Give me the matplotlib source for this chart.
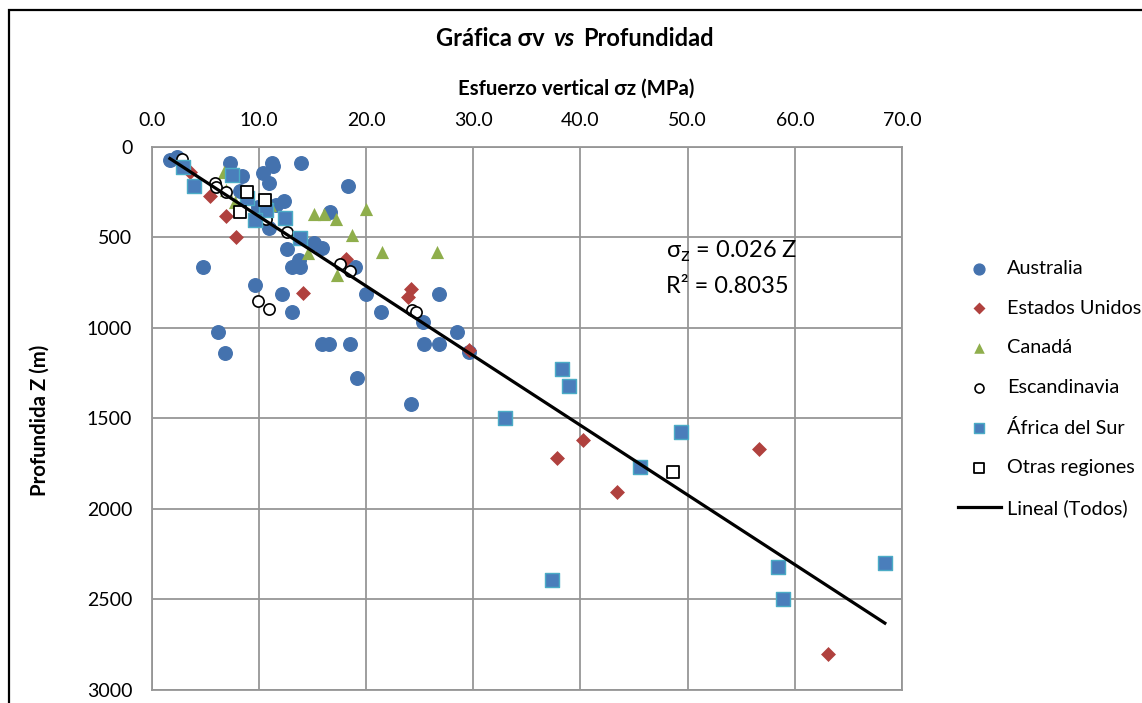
import matplotlib
matplotlib.use("Agg")
import matplotlib.pyplot as plt
import numpy as np
from matplotlib.patches import Rectangle
from matplotlib.offsetbox import TextArea, HPacker, AnchoredOffsetbox

plt.rcParams["font.family"] = ["Lato", "DejaVu Sans"]

# Esfuerzo vertical (MPa) y profundidad (m) por región
aus_sigma = [1.7, 2.4, 7.3, 11.2, 11.3, 13.9, 8.4, 10.4, 10.9, 18.3, 8.2, 11.6, 12.3, 9.9,
             16.6, 10.9, 15.1, 15.9, 12.6, 13.7, 13.1, 13.8, 19.0, 4.8, 9.6, 12.2, 13.1,
             20.0, 21.4, 26.8, 6.2, 6.8, 15.9, 16.5, 18.5, 19.2, 25.3, 28.5, 25.4, 26.8,
             29.6, 24.2]
aus_depth = [73, 55, 88, 92, 107, 92, 162, 147, 199, 215, 243, 322, 298, 331,
             359, 451, 533, 561, 567, 626, 666, 666, 663, 666, 764, 813, 911,
             813, 911, 815, 1021, 1137, 1091, 1091, 1091, 1275, 970, 1025, 1091, 1091,
             1135, 1422]

usa_sigma = [3.6, 5.4, 6.9, 7.9, 14.1, 18.1, 24.2, 23.9, 29.6, 40.2, 37.8, 43.4, 56.7, 63.1]
usa_depth = [141, 272, 381, 500, 810, 620, 786, 828, 1123, 1620, 1717, 1908, 1669, 2803]

can_sigma = [6.7, 6.9, 7.8, 11.0, 14.6, 15.1, 16.1, 17.2, 20.0, 18.7, 21.5, 26.6, 17.3]
can_depth = [141, 240, 304, 322, 589, 372, 372, 401, 346, 488, 580, 580, 708]

esc_sigma = [2.8, 5.9, 6.0, 6.9, 10.7, 12.6, 17.6, 18.5, 9.9, 10.9, 24.3, 24.7]
esc_depth = [68, 202, 221, 248, 399, 469, 648, 685, 850, 898, 902, 911]

afr_sigma = [2.9, 3.9, 7.5, 8.9, 10.7, 9.6, 12.4, 13.8, 33.0, 38.3, 38.9, 49.4, 45.6,
             37.3, 58.4, 58.9, 68.4]
afr_depth = [110, 215, 156, 285, 350, 405, 395, 506, 1496, 1228, 1320, 1577, 1770,
             2395, 2319, 2497, 2297]

otr_sigma = [8.9, 10.6, 8.2, 48.6]
otr_depth = [248, 294, 359, 1798]

# pendiente de la regresión lineal (sigma_z = 0.026 Z)
slope = 0.026
r2 = 0.8035

x_ticks = [0, 10, 20, 30, 40, 50, 60, 70]
y_ticks = [0, 500, 1000, 1500, 2000, 2500, 3000]

fig = plt.figure(figsize=(11.42, 7.03), dpi=100)
ax = fig.add_axes([151.7 / 1142, 1 - 690 / 703, (902 - 151.7) / 1142, (690 - 146.7) / 703])

ax.scatter(aus_sigma, aus_depth, s=95, marker="o", color="#4472AE", label="Australia", zorder=3)
ax.scatter(usa_sigma, usa_depth, s=58, marker="D", color="#B0413E", linewidths=0,
           label="Estados Unidos", zorder=3)
ax.scatter(can_sigma, can_depth, s=90, marker="^", color="#8FAE4C", linewidths=0,
           label="Canadá", zorder=3)
ax.scatter(esc_sigma, esc_depth, s=65, marker="o", facecolor="white", edgecolor="black",
           linewidths=1.2, label="Escandinavia", zorder=3)
ax.scatter(afr_sigma, afr_depth, s=90, marker="s", color="#4A7EBB", edgecolor="#4BACC6",
           linewidths=1.0, label="África del Sur", zorder=3)
ax.scatter(otr_sigma, otr_depth, s=75, marker="s", facecolor="white", edgecolor="black",
           linewidths=1.3, label="Otras regiones", zorder=3)

all_sigma = aus_sigma + usa_sigma + can_sigma + esc_sigma + afr_sigma + otr_sigma
xs = np.array([min(all_sigma), max(all_sigma)])
ax.plot(xs, xs / slope, color="black", lw=2.3, label="Lineal (Todos)", zorder=4)

ax.set_xlim(0, 70)
ax.set_ylim(3000, 0)
ax.set_xticks(x_ticks)
ax.set_xticklabels([f"{v:.1f}" for v in x_ticks])
ax.set_yticks(y_ticks)
ax.xaxis.tick_top()
ax.tick_params(length=0, labelsize=14, colors="black")
ax.tick_params(axis="x", pad=13)
ax.tick_params(axis="y", pad=14)
ax.grid(True, color="#969696", lw=1.3)
ax.set_axisbelow(True)
for sp in ax.spines.values():
    sp.set_color("#969696")
    sp.set_linewidth(1.3)

ax.text(0.686, 0.807, r"σ$_\mathrm{z}$ = 0.026 Z", transform=ax.transAxes, fontsize=17,
        va="center")
ax.text(0.686, 0.742, f"R² = {r2}", transform=ax.transAxes, fontsize=17, va="center")

# título con "vs" en cursiva
title_box = HPacker(children=[
    TextArea("Gráfica σv", textprops=dict(fontsize=17, weight="bold")),
    TextArea("vs", textprops=dict(fontsize=17, weight="bold", style="italic")),
    TextArea("Profundidad", textprops=dict(fontsize=17, weight="bold")),
], sep=6, align="baseline")
fig.add_artist(AnchoredOffsetbox(loc="center", child=title_box, frameon=False, pad=0,
                                 borderpad=0, bbox_to_anchor=(575 / 1142, 1 - 38 / 703),
                                 bbox_transform=fig.transFigure))

fig.text(576 / 1142, 1 - 89 / 703, "Esfuerzo vertical σz (MPa)", fontsize=14.7,
         weight="bold", ha="center", va="center")
fig.text(40 / 1142, 1 - 420 / 703, "Profundida Z (m)", fontsize=14.7, weight="bold",
         rotation=90, ha="center", va="center")

fig.legend(loc="upper left", bbox_to_anchor=(958 / 1142, 1 - 260 / 703), frameon=False,
           fontsize=14.3, handlelength=2.15, handletextpad=0.3, labelspacing=1.14,
           borderpad=0, borderaxespad=0, markerscale=0.8)

# marco exterior del gráfico
fig.add_artist(Rectangle((9 / 1142, -0.1), 1.2, 1 - 10 / 703 + 0.1, transform=fig.transFigure,
                         fill=False, edgecolor="black", lw=1.6, clip_on=False))

fig.savefig("out.png", dpi=100)
